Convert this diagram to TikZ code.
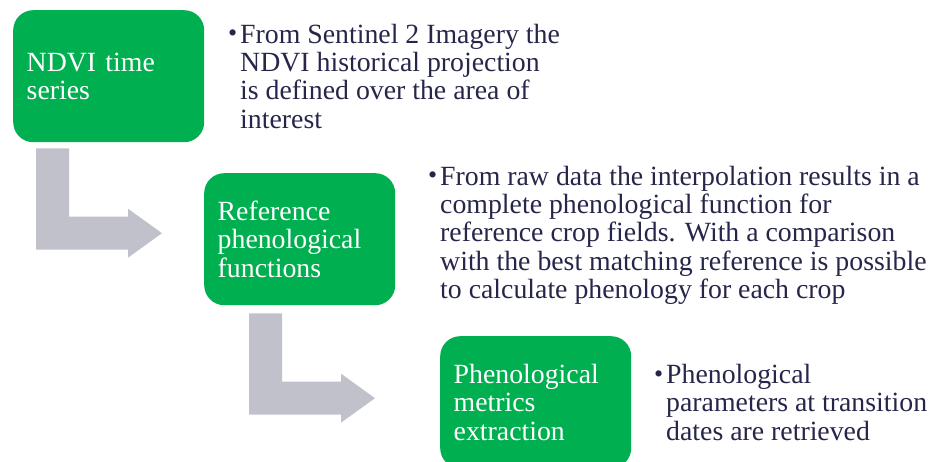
\documentclass[tikz,border=0pt]{standalone}
\usepackage{fontspec}
\setmainfont{Liberation Serif}
\usetikzlibrary{calc}
\definecolor{stepgreen}{HTML}{00B050}
\definecolor{arrowgray}{HTML}{C1C1CB}
\definecolor{notetext}{HTML}{26264A}
% bent block arrow: #1 = top-left corner of the vertical bar, #2 = arrow tip
\newcommand\bentarrow[2]{%
  \fill[arrowgray] let \p1=#1, \p2=#2 in
    (\x1,\y1) -- (\x1+33pt,\y1) -- (\x1+33pt,\y2+16.5pt)
    -- (\x2-34pt,\y2+16.5pt) -- (\x2-34pt,\y2+24.5pt) -- (\x2,\y2)
    -- (\x2-34pt,\y2-24.5pt) -- (\x2-34pt,\y2-16.5pt)
    -- (\x1,\y2-16.5pt) -- cycle;}
\begin{document}
\begin{tikzpicture}[x=1pt,y=-1pt,
  bodyfont/.style={font=\fontsize{27.8}{28.4}\selectfont},
  stepbox/.style={bodyfont, fill=stepgreen, rounded corners=20pt,
    minimum width=191pt, minimum height=132pt, text width=164pt,
    inner xsep=13.5pt, inner ysep=0pt, align=left, text=white, anchor=north west},
  note/.style={bodyfont, anchor=north west, inner sep=0pt, align=left, text=notetext},
  bulletmark/.style={font=\fontsize{26}{28.4}\selectfont, anchor=base west, inner sep=0pt, text=notetext}]
\useasboundingbox (0,0) rectangle (932,462);
\clip (0,0) rectangle (932,462);

% process steps
\node[stepbox] (ndvi) at (13,10) {NDVI time\\series};
\node[stepbox] (refpheno) at (204,173) {Reference\\phenological\\functions};
\node[stepbox] (metrics) at (440,336) {Phenological\\metrics\\extraction};

% descriptions
\node[bulletmark] (b1) at (228,42) {•};
\node[note] (n1) at (240,22) {\rule{0pt}{21pt}From Sentinel 2 Imagery the\\NDVI historical projection\\is defined over the area of\\interest};
\node[bulletmark] (b2) at (428,184) {•};
\node[note] (n2) at (440,164) {\rule{0pt}{21pt}From raw data the interpolation results in a\\complete phenological function for\\reference crop fields. With a comparison\\with the best matching reference is possible\\to calculate phenology for each crop};
\node[bulletmark] (b3) at (654,382) {•};
\node[note] (n3) at (666,362) {\rule{0pt}{21pt}Phenological\\parameters at transition\\dates are retrieved};

% flow arrows between steps
\coordinate (a1s) at ($(ndvi.south west)+(23,6)$);
\coordinate (a1t) at ($(refpheno.west)+(-42,-6)$);
\coordinate (a2s) at ($(refpheno.south west)+(45,8)$);
\coordinate (a2t) at ($(metrics.west)+(-65,-4)$);
\bentarrow{(a1s)}{(a1t)}
\bentarrow{(a2s)}{(a2t)}
\end{tikzpicture}
\end{document}
